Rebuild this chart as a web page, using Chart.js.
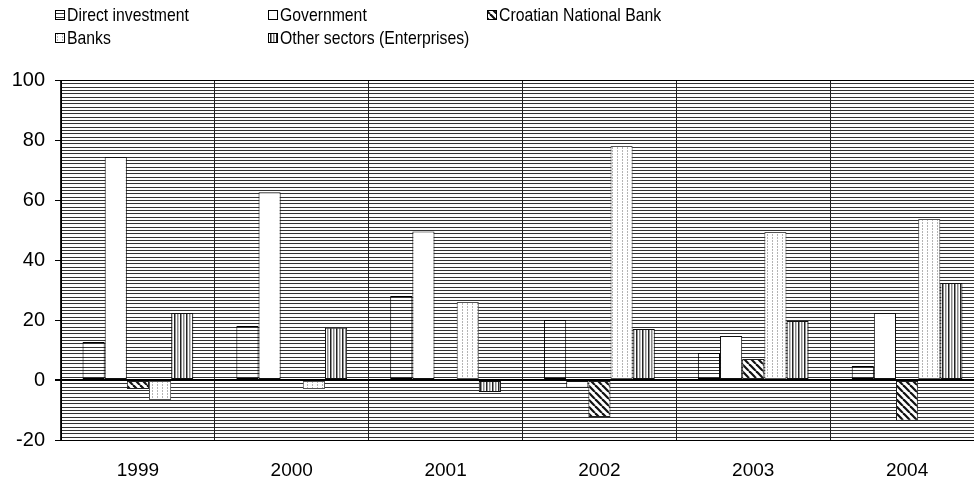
<!DOCTYPE html>
<html>
<head>
<meta charset="utf-8">
<script src="https://cdn.jsdelivr.net/npm/chart.js@4/dist/chart.umd.min.js"></script>
<style>
  html, body { margin: 0; padding: 0; background: #fff; overflow: hidden; }
  #wrap { width: 994px; height: 489px; position: relative; }
</style>
</head>
<body>
<div id="wrap"><canvas id="chart"></canvas></div>
<script>
const years = ['1999', '2000', '2001', '2002', '2003', '2004'];
const directInvestment = [12.7, 18, 28, 20, 9, 4.7];
const government = [74.3, 62.6, 49.5, -2.6, 14.7, 22.3];
const centralBank = [-3, 0, 0, -12.3, 7, -13.6];
const banks = [-6.7, -3, 26, 78, 49.3, 53.7];
const otherSectors = [22.3, 17.4, -4, 17, 19.7, 32.3];
const yTicks = [-20, 0, 20, 40, 60, 80, 100];

const FONT = "'Liberation Sans', Arial, sans-serif";

// small helper to build a canvas pattern
function makePattern(w, h, draw) {
  const c = document.createElement('canvas');
  c.width = w; c.height = h;
  const g = c.getContext('2d');
  draw(g, w, h);
  return g.createPattern(c, 'repeat');
}

const hLines = makePattern(4, 10, (g, w) => {
  g.fillStyle = '#fff'; g.fillRect(0, 0, w, 10);
  g.fillStyle = '#333';
  [0, 3, 7].forEach(y => g.fillRect(0, y, w, 1));
});
const whiteFill = '#ffffff';
const diagonal = makePattern(7, 7, (g, w, h) => {
  g.fillStyle = '#fff'; g.fillRect(0, 0, w, h);
  g.strokeStyle = '#111'; g.lineWidth = 2.2;
  for (let o = -w; o <= w; o += w) {
    g.beginPath(); g.moveTo(o, 0); g.lineTo(o + w, h); g.stroke();
  }
});
const dots = makePattern(5, 3, (g, w, h) => {
  g.fillStyle = '#fff'; g.fillRect(0, 0, w, h);
  g.fillStyle = '#b4b4b4'; g.fillRect(2, 0, 1, 2);
});
const vLines = makePattern(6, 4, (g, w, h) => {
  g.fillStyle = '#fff'; g.fillRect(0, 0, w, h);
  g.fillStyle = '#222'; g.fillRect(0, 0, 1.5, h);
  g.fillStyle = '#8a8a8a'; g.fillRect(3, 0, 1.5, h);
});

const series = [
  { label: 'Direct investment', data: directInvestment, fill: hLines, border: '#000' },
  { label: 'Government', data: government, fill: whiteFill, border: '#111' },
  { label: 'Croatian National Bank', data: centralBank, fill: diagonal, border: '#222' },
  { label: 'Banks', data: banks, fill: dots, border: '#555' },
  { label: 'Other sectors (Enterprises)', data: otherSectors, fill: vLines, border: '#111' }
];

// legend positions in a 3 column grid
const legendCols = [55, 268, 487];
const legendRows = [15, 38];

const backdrop = {
  id: 'backdrop',
  beforeDraw(chart) {
    const { ctx, chartArea: a } = chart;
    ctx.save();
    ctx.fillStyle = '#fff';
    ctx.fillRect(0, 0, chart.width, chart.height);
    ctx.fillStyle = hLines;
    ctx.fillRect(a.left, a.top, a.right - a.left, a.bottom - a.top);
    ctx.restore();
  }
};

const gridLegend = {
  id: 'gridLegend',
  afterDraw(chart) {
    const ctx = chart.ctx;
    series.forEach((s, i) => {
      const x = legendCols[i % 3];
      const y = legendRows[Math.floor(i / 3)];
      ctx.save();
      ctx.fillStyle = s.fill;
      ctx.fillRect(x, y - 5, 10, 10);
      ctx.strokeStyle = '#000';
      ctx.lineWidth = 1;
      ctx.strokeRect(x + 0.5, y - 4.5, 9, 9);
      // legend text is a bit condensed in the original
      ctx.translate(x + 12, y + 1);
      ctx.scale(0.83, 1);
      ctx.font = '19px ' + FONT;
      ctx.textBaseline = 'middle';
      ctx.fillStyle = '#000';
      ctx.fillText(s.label, 0, 0);
      ctx.restore();
    });
  }
};

new Chart(document.getElementById('chart'), {
  type: 'bar',
  data: {
    labels: years,
    datasets: series.map(s => ({
      label: s.label,
      data: s.data,
      backgroundColor: s.fill,
      borderColor: s.border,
      borderWidth: 1,
      borderSkipped: false,
      categoryPercentage: 0.72,
      barPercentage: 1
    }))
  },
  options: {
    responsive: true,
    maintainAspectRatio: false,
    animation: false,
    layout: { padding: { top: 80, right: 10, left: 0, bottom: 0 } },
    plugins: { legend: { display: false }, tooltip: { enabled: false } },
    scales: {
      x: {
        offset: true,
        grid: { offset: true, color: '#222', lineWidth: 1, tickLength: 0 },
        border: { color: '#000', width: 1 },
        ticks: { color: '#000', font: { family: FONT, size: 19 }, padding: 19 },
        afterFit(scale) { scale.height = 49; }
      },
      y: {
        min: -20,
        max: 100,
        afterBuildTicks(scale) { scale.ticks = yTicks.map(v => ({ value: v })); },
        grid: {
          drawOnChartArea: true,
          color: c => (c.tick && (c.tick.value === 0 || c.tick.value === 100)) ? '#000' : 'rgba(0,0,0,0)',
          lineWidth: c => (c.tick && c.tick.value === 0) ? 2 : 1,
          tickColor: '#000',
          tickLength: 6
        },
        border: { color: '#000', width: 1 },
        ticks: { color: '#000', font: { family: FONT, size: 20 }, padding: 10 },
        afterFit(scale) { scale.width = 61; }
      }
    }
  },
  plugins: [backdrop, gridLegend]
});
</script>
</body>
</html>
